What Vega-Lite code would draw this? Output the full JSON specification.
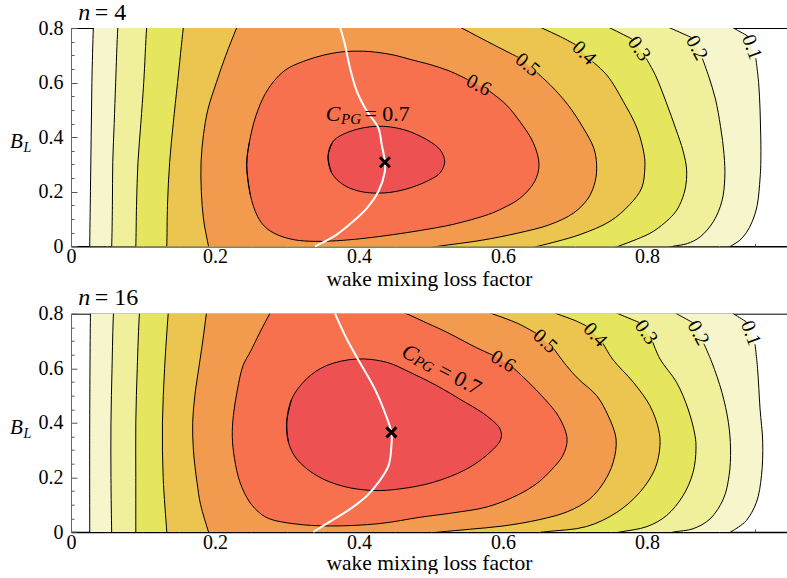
{
"$schema":"https://vega.github.io/schema/vega-lite/v6.json",
"background":"white",
"padding":{"left":10,"top":0,"right":0,"bottom":0},
"bounds":"flush",
"spacing":66.7,
"datasets":{
"ct":[
{"p":1,"lev":0.1,"i":-1,"x":0.026,"y":-0.05,"yl":-0.05},{"p":1,"lev":0.1,"i":0,"x":0.026,"y":0,"yl":0},{"p":1,"lev":0.1,"i":1,"x":0.027,"y":0.2,"yl":0.2},{"p":1,"lev":0.1,"i":2,"x":0.028,"y":0.4,"yl":0.4},{"p":1,"lev":0.1,"i":3,"x":0.029,"y":0.6,"yl":0.6},{"p":1,"lev":0.1,"i":4,"x":0.031,"y":0.8,"yl":0.8},{"p":1,"lev":0.1,"i":4.5,"x":0.032,"y":0.86,"yl":0.86},{"p":1,"lev":0.1,"i":4.7,"x":0.9,"y":0.83,"yl":0.83},{"p":1,"lev":0.1,"i":5,"x":0.92,"y":0.8,"yl":0.8},{"p":1,"lev":0.1,"i":6,"x":0.9397,"y":0.771,"yl":0.771},{"p":1,"lev":0.1,"i":7,"x":0.9454,"y":0.73,"yl":null},{"p":1,"lev":0.1,"i":8,"x":0.9511,"y":0.689,"yl":0.689},{"p":1,"lev":0.1,"i":9,"x":0.955,"y":0.6,"yl":0.6},{"p":1,"lev":0.1,"i":10,"x":0.957,"y":0.5,"yl":0.5},{"p":1,"lev":0.1,"i":11,"x":0.958,"y":0.4,"yl":0.4},{"p":1,"lev":0.1,"i":12,"x":0.958,"y":0.3,"yl":0.3},{"p":1,"lev":0.1,"i":13,"x":0.957,"y":0.25,"yl":0.25},{"p":1,"lev":0.1,"i":14,"x":0.953,"y":0.15,"yl":0.15},{"p":1,"lev":0.1,"i":15,"x":0.946,"y":0.09,"yl":0.09},{"p":1,"lev":0.1,"i":16,"x":0.938,"y":0.05,"yl":0.05},{"p":1,"lev":0.1,"i":17,"x":0.928,"y":0.02,"yl":0.02},{"p":1,"lev":0.1,"i":18,"x":0.916,"y":0,"yl":0},{"p":1,"lev":0.1,"i":19,"x":0.9,"y":-0.03,"yl":-0.03},
{"p":1,"lev":0.2,"i":-1,"x":0.0555,"y":-0.05,"yl":-0.05},{"p":1,"lev":0.2,"i":0,"x":0.0565,"y":0,"yl":0},{"p":1,"lev":0.2,"i":1,"x":0.0575,"y":0.15,"yl":0.15},{"p":1,"lev":0.2,"i":2,"x":0.058,"y":0.308,"yl":0.308},{"p":1,"lev":0.2,"i":3,"x":0.06,"y":0.45,"yl":0.45},{"p":1,"lev":0.2,"i":4,"x":0.062,"y":0.6,"yl":0.6},{"p":1,"lev":0.2,"i":5,"x":0.065,"y":0.8,"yl":0.8},{"p":1,"lev":0.2,"i":5.5,"x":0.067,"y":0.86,"yl":0.86},{"p":1,"lev":0.2,"i":5.7,"x":0.805,"y":0.83,"yl":0.83},{"p":1,"lev":0.2,"i":6,"x":0.832,"y":0.8,"yl":0.8},{"p":1,"lev":0.2,"i":7,"x":0.861,"y":0.766,"yl":0.766},{"p":1,"lev":0.2,"i":8,"x":0.869,"y":0.727,"yl":null},{"p":1,"lev":0.2,"i":9,"x":0.877,"y":0.688,"yl":0.688},{"p":1,"lev":0.2,"i":10,"x":0.886,"y":0.62,"yl":0.62},{"p":1,"lev":0.2,"i":11,"x":0.895,"y":0.54,"yl":0.54},{"p":1,"lev":0.2,"i":12,"x":0.902,"y":0.44,"yl":0.44},{"p":1,"lev":0.2,"i":13,"x":0.907,"y":0.336,"yl":0.336},{"p":1,"lev":0.2,"i":14,"x":0.908,"y":0.25,"yl":0.25},{"p":1,"lev":0.2,"i":15,"x":0.904,"y":0.165,"yl":0.165},{"p":1,"lev":0.2,"i":16,"x":0.892,"y":0.09,"yl":0.09},{"p":1,"lev":0.2,"i":17,"x":0.874,"y":0.035,"yl":0.035},{"p":1,"lev":0.2,"i":18,"x":0.856,"y":0.01,"yl":0.01},{"p":1,"lev":0.2,"i":19,"x":0.836,"y":0,"yl":0},{"p":1,"lev":0.2,"i":20,"x":0.8,"y":-0.02,"yl":-0.02},
{"p":1,"lev":0.3,"i":-1,"x":0.089,"y":-0.05,"yl":-0.05},{"p":1,"lev":0.3,"i":0,"x":0.09,"y":0,"yl":0},{"p":1,"lev":0.3,"i":1,"x":0.091,"y":0.15,"yl":0.15},{"p":1,"lev":0.3,"i":2,"x":0.093,"y":0.308,"yl":0.308},{"p":1,"lev":0.3,"i":3,"x":0.097,"y":0.45,"yl":0.45},{"p":1,"lev":0.3,"i":4,"x":0.101,"y":0.6,"yl":0.6},{"p":1,"lev":0.3,"i":5,"x":0.105,"y":0.8,"yl":0.8},{"p":1,"lev":0.3,"i":5.5,"x":0.107,"y":0.86,"yl":0.86},{"p":1,"lev":0.3,"i":5.7,"x":0.72,"y":0.835,"yl":0.835},{"p":1,"lev":0.3,"i":6,"x":0.7486,"y":0.8,"yl":0.8},{"p":1,"lev":0.3,"i":7,"x":0.779,"y":0.76,"yl":0.76},{"p":1,"lev":0.3,"i":8,"x":0.789,"y":0.724,"yl":null},{"p":1,"lev":0.3,"i":9,"x":0.799,"y":0.688,"yl":0.688},{"p":1,"lev":0.3,"i":10,"x":0.812,"y":0.625,"yl":0.625},{"p":1,"lev":0.3,"i":11,"x":0.827,"y":0.525,"yl":0.525},{"p":1,"lev":0.3,"i":12,"x":0.84,"y":0.43,"yl":0.43},{"p":1,"lev":0.3,"i":13,"x":0.85,"y":0.35,"yl":0.35},{"p":1,"lev":0.3,"i":14,"x":0.855,"y":0.28,"yl":0.28},{"p":1,"lev":0.3,"i":15,"x":0.853,"y":0.21,"yl":0.21},{"p":1,"lev":0.3,"i":16,"x":0.845,"y":0.15,"yl":0.15},{"p":1,"lev":0.3,"i":17,"x":0.8365,"y":0.116,"yl":0.116},{"p":1,"lev":0.3,"i":18,"x":0.809,"y":0.055,"yl":0.055},{"p":1,"lev":0.3,"i":19,"x":0.785,"y":0.025,"yl":0.025},{"p":1,"lev":0.3,"i":20,"x":0.76,"y":0,"yl":0},{"p":1,"lev":0.3,"i":21,"x":0.73,"y":-0.03,"yl":-0.03},
{"p":1,"lev":0.4,"i":-1,"x":0.132,"y":-0.05,"yl":-0.05},{"p":1,"lev":0.4,"i":0,"x":0.133,"y":0,"yl":0},{"p":1,"lev":0.4,"i":1,"x":0.134,"y":0.15,"yl":0.15},{"p":1,"lev":0.4,"i":2,"x":0.137,"y":0.308,"yl":0.308},{"p":1,"lev":0.4,"i":3,"x":0.142,"y":0.45,"yl":0.45},{"p":1,"lev":0.4,"i":4,"x":0.148,"y":0.6,"yl":0.6},{"p":1,"lev":0.4,"i":5,"x":0.156,"y":0.8,"yl":0.8},{"p":1,"lev":0.4,"i":5.5,"x":0.159,"y":0.86,"yl":0.86},{"p":1,"lev":0.4,"i":5.7,"x":0.63,"y":0.83,"yl":0.83},{"p":1,"lev":0.4,"i":6,"x":0.654,"y":0.8,"yl":0.8},{"p":1,"lev":0.4,"i":7,"x":0.68,"y":0.768,"yl":0.768},{"p":1,"lev":0.4,"i":8,"x":0.7007,"y":0.739,"yl":0.739},{"p":1,"lev":0.4,"i":9,"x":0.7125,"y":0.708,"yl":null},{"p":1,"lev":0.4,"i":10,"x":0.7243,"y":0.677,"yl":0.677},{"p":1,"lev":0.4,"i":11,"x":0.745,"y":0.625,"yl":0.625},{"p":1,"lev":0.4,"i":12,"x":0.767,"y":0.531,"yl":0.531},{"p":1,"lev":0.4,"i":13,"x":0.786,"y":0.4335,"yl":0.4335},{"p":1,"lev":0.4,"i":14,"x":0.796,"y":0.336,"yl":0.336},{"p":1,"lev":0.4,"i":15,"x":0.797,"y":0.287,"yl":0.287},{"p":1,"lev":0.4,"i":16,"x":0.7926,"y":0.2136,"yl":0.2136},{"p":1,"lev":0.4,"i":17,"x":0.776,"y":0.153,"yl":0.153},{"p":1,"lev":0.4,"i":18,"x":0.7486,"y":0.0916,"yl":0.0916},{"p":1,"lev":0.4,"i":19,"x":0.707,"y":0.043,"yl":0.043},{"p":1,"lev":0.4,"i":20,"x":0.675,"y":0.018,"yl":0.018},{"p":1,"lev":0.4,"i":21,"x":0.648,"y":0,"yl":0},{"p":1,"lev":0.4,"i":22,"x":0.61,"y":-0.025,"yl":-0.025},
{"p":1,"lev":0.5,"i":-1,"x":0.195,"y":-0.05,"yl":-0.05},{"p":1,"lev":0.5,"i":0,"x":0.191,"y":0,"yl":0},{"p":1,"lev":0.5,"i":1,"x":0.184,"y":0.1,"yl":0.1},{"p":1,"lev":0.5,"i":2,"x":0.181,"y":0.2,"yl":0.2},{"p":1,"lev":0.5,"i":3,"x":0.1806,"y":0.308,"yl":0.308},{"p":1,"lev":0.5,"i":4,"x":0.184,"y":0.409,"yl":0.409},{"p":1,"lev":0.5,"i":5,"x":0.19,"y":0.5,"yl":0.5},{"p":1,"lev":0.5,"i":6,"x":0.202,"y":0.601,"yl":0.601},{"p":1,"lev":0.5,"i":7,"x":0.215,"y":0.7,"yl":0.7},{"p":1,"lev":0.5,"i":8,"x":0.23,"y":0.8,"yl":0.8},{"p":1,"lev":0.5,"i":8.5,"x":0.24,"y":0.86,"yl":0.86},{"p":1,"lev":0.5,"i":8.7,"x":0.51,"y":0.845,"yl":0.845},{"p":1,"lev":0.5,"i":9,"x":0.5426,"y":0.8,"yl":0.8},{"p":1,"lev":0.5,"i":10,"x":0.5866,"y":0.739,"yl":0.739},{"p":1,"lev":0.5,"i":11,"x":0.621,"y":0.693,"yl":0.693},{"p":1,"lev":0.5,"i":12,"x":0.634,"y":0.665,"yl":null},{"p":1,"lev":0.5,"i":13,"x":0.647,"y":0.637,"yl":0.637},{"p":1,"lev":0.5,"i":14,"x":0.668,"y":0.585,"yl":0.585},{"p":1,"lev":0.5,"i":15,"x":0.69,"y":0.519,"yl":0.519},{"p":1,"lev":0.5,"i":16,"x":0.7115,"y":0.4335,"yl":0.4335},{"p":1,"lev":0.5,"i":17,"x":0.726,"y":0.36,"yl":0.36},{"p":1,"lev":0.5,"i":18,"x":0.73,"y":0.3,"yl":0.3},{"p":1,"lev":0.5,"i":19,"x":0.728,"y":0.238,"yl":0.238},{"p":1,"lev":0.5,"i":20,"x":0.7185,"y":0.177,"yl":0.177},{"p":1,"lev":0.5,"i":21,"x":0.698,"y":0.122,"yl":0.122},{"p":1,"lev":0.5,"i":22,"x":0.665,"y":0.0795,"yl":0.0795},{"p":1,"lev":0.5,"i":23,"x":0.62,"y":0.048,"yl":0.048},{"p":1,"lev":0.5,"i":24,"x":0.57,"y":0.022,"yl":0.022},{"p":1,"lev":0.5,"i":25,"x":0.51,"y":0,"yl":0},{"p":1,"lev":0.5,"i":26,"x":0.46,"y":-0.02,"yl":-0.02},
{"p":1,"lev":0.6,"i":-1,"x":0.249,"y":0.189,"yl":0.189},{"p":1,"lev":0.6,"i":0,"x":0.244,"y":0.3,"yl":0.3},{"p":1,"lev":0.6,"i":1,"x":0.248,"y":0.385,"yl":0.385},{"p":1,"lev":0.6,"i":2,"x":0.257,"y":0.48,"yl":0.48},{"p":1,"lev":0.6,"i":3,"x":0.27,"y":0.56,"yl":0.56},{"p":1,"lev":0.6,"i":4,"x":0.285,"y":0.615,"yl":0.615},{"p":1,"lev":0.6,"i":5,"x":0.3,"y":0.65,"yl":0.65},{"p":1,"lev":0.6,"i":6,"x":0.323,"y":0.678,"yl":0.678},{"p":1,"lev":0.6,"i":7,"x":0.35,"y":0.7,"yl":0.7},{"p":1,"lev":0.6,"i":8,"x":0.378,"y":0.713,"yl":0.713},{"p":1,"lev":0.6,"i":9,"x":0.405,"y":0.715,"yl":0.715},{"p":1,"lev":0.6,"i":10,"x":0.425,"y":0.711,"yl":0.711},{"p":1,"lev":0.6,"i":11,"x":0.45,"y":0.7,"yl":0.7},{"p":1,"lev":0.6,"i":12,"x":0.471,"y":0.685,"yl":0.685},{"p":1,"lev":0.6,"i":13,"x":0.5,"y":0.665,"yl":0.665},{"p":1,"lev":0.6,"i":14,"x":0.525,"y":0.643,"yl":0.643},{"p":1,"lev":0.6,"i":15,"x":0.551,"y":0.611,"yl":0.611},{"p":1,"lev":0.6,"i":16,"x":0.566,"y":0.59,"yl":null},{"p":1,"lev":0.6,"i":17,"x":0.581,"y":0.569,"yl":0.569},{"p":1,"lev":0.6,"i":18,"x":0.604,"y":0.52,"yl":0.52},{"p":1,"lev":0.6,"i":19,"x":0.624,"y":0.455,"yl":0.455},{"p":1,"lev":0.6,"i":20,"x":0.642,"y":0.38,"yl":0.38},{"p":1,"lev":0.6,"i":21,"x":0.65,"y":0.3,"yl":0.3},{"p":1,"lev":0.6,"i":22,"x":0.644,"y":0.238,"yl":0.238},{"p":1,"lev":0.6,"i":23,"x":0.624,"y":0.177,"yl":0.177},{"p":1,"lev":0.6,"i":24,"x":0.6,"y":0.14,"yl":0.14},{"p":1,"lev":0.6,"i":25,"x":0.58,"y":0.117,"yl":0.117},{"p":1,"lev":0.6,"i":26,"x":0.53,"y":0.08,"yl":0.08},{"p":1,"lev":0.6,"i":27,"x":0.485,"y":0.058,"yl":0.058},{"p":1,"lev":0.6,"i":28,"x":0.448,"y":0.043,"yl":0.043},{"p":1,"lev":0.6,"i":29,"x":0.41,"y":0.03,"yl":0.03},{"p":1,"lev":0.6,"i":30,"x":0.378,"y":0.022,"yl":0.022},{"p":1,"lev":0.6,"i":31,"x":0.34,"y":0.018,"yl":0.018},{"p":1,"lev":0.6,"i":32,"x":0.31,"y":0.024,"yl":0.024},{"p":1,"lev":0.6,"i":33,"x":0.286,"y":0.043,"yl":0.043},{"p":1,"lev":0.6,"i":34,"x":0.27,"y":0.07,"yl":0.07},{"p":1,"lev":0.6,"i":35,"x":0.259,"y":0.11,"yl":0.11},{"p":1,"lev":0.6,"i":36,"x":0.249,"y":0.189,"yl":0.189},{"p":1,"lev":0.6,"i":37,"x":0.244,"y":0.3,"yl":0.3},{"p":1,"lev":0.6,"i":38,"x":0.248,"y":0.385,"yl":0.385},
{"p":1,"lev":0.7,"i":-1,"x":0.362,"y":0.269,"yl":0.269},{"p":1,"lev":0.7,"i":0,"x":0.357,"y":0.33,"yl":0.33},{"p":1,"lev":0.7,"i":1,"x":0.364,"y":0.385,"yl":0.385},{"p":1,"lev":0.7,"i":2,"x":0.3875,"y":0.421,"yl":0.421},{"p":1,"lev":0.7,"i":3,"x":0.425,"y":0.44,"yl":0.44},{"p":1,"lev":0.7,"i":4,"x":0.4615,"y":0.428,"yl":0.428},{"p":1,"lev":0.7,"i":5,"x":0.494,"y":0.391,"yl":0.391},{"p":1,"lev":0.7,"i":6,"x":0.5125,"y":0.354,"yl":0.354},{"p":1,"lev":0.7,"i":7,"x":0.519,"y":0.311,"yl":0.311},{"p":1,"lev":0.7,"i":8,"x":0.5125,"y":0.269,"yl":0.269},{"p":1,"lev":0.7,"i":9,"x":0.489,"y":0.232,"yl":0.232},{"p":1,"lev":0.7,"i":10,"x":0.457,"y":0.204,"yl":0.204},{"p":1,"lev":0.7,"i":11,"x":0.429,"y":0.195,"yl":0.195},{"p":1,"lev":0.7,"i":12,"x":0.401,"y":0.2015,"yl":0.2015},{"p":1,"lev":0.7,"i":13,"x":0.378,"y":0.226,"yl":0.226},{"p":1,"lev":0.7,"i":14,"x":0.362,"y":0.269,"yl":0.269},{"p":1,"lev":0.7,"i":15,"x":0.357,"y":0.33,"yl":0.33},{"p":1,"lev":0.7,"i":16,"x":0.364,"y":0.385,"yl":0.385},
{"p":2,"lev":0.1,"i":-1,"x":0.026,"y":-0.05,"yl":-0.05},{"p":2,"lev":0.1,"i":0,"x":0.026,"y":0,"yl":0},{"p":2,"lev":0.1,"i":1,"x":0.026,"y":0.4,"yl":0.4},{"p":2,"lev":0.1,"i":2,"x":0.027,"y":0.8,"yl":0.8},{"p":2,"lev":0.1,"i":2.5,"x":0.0275,"y":0.86,"yl":0.86},{"p":2,"lev":0.1,"i":2.7,"x":0.902,"y":0.83,"yl":0.83},{"p":2,"lev":0.1,"i":3,"x":0.92,"y":0.8,"yl":0.8},{"p":2,"lev":0.1,"i":4,"x":0.938,"y":0.77,"yl":0.77},{"p":2,"lev":0.1,"i":5,"x":0.944,"y":0.729,"yl":null},{"p":2,"lev":0.1,"i":6,"x":0.95,"y":0.688,"yl":0.688},{"p":2,"lev":0.1,"i":7,"x":0.9535,"y":0.6,"yl":0.6},{"p":2,"lev":0.1,"i":8,"x":0.957,"y":0.4507,"yl":0.4507},{"p":2,"lev":0.1,"i":9,"x":0.9607,"y":0.329,"yl":0.329},{"p":2,"lev":0.1,"i":10,"x":0.959,"y":0.207,"yl":0.207},{"p":2,"lev":0.1,"i":11,"x":0.952,"y":0.109,"yl":0.109},{"p":2,"lev":0.1,"i":12,"x":0.938,"y":0.042,"yl":0.042},{"p":2,"lev":0.1,"i":13,"x":0.927,"y":0.018,"yl":0.018},{"p":2,"lev":0.1,"i":14,"x":0.916,"y":0,"yl":0},{"p":2,"lev":0.1,"i":15,"x":0.903,"y":-0.02,"yl":-0.02},
{"p":2,"lev":0.2,"i":-1,"x":0.057,"y":-0.05,"yl":-0.05},{"p":2,"lev":0.2,"i":0,"x":0.0565,"y":0,"yl":0},{"p":2,"lev":0.2,"i":1,"x":0.0555,"y":0.2,"yl":0.2},{"p":2,"lev":0.2,"i":2,"x":0.0555,"y":0.4,"yl":0.4},{"p":2,"lev":0.2,"i":3,"x":0.057,"y":0.6,"yl":0.6},{"p":2,"lev":0.2,"i":4,"x":0.059,"y":0.8,"yl":0.8},{"p":2,"lev":0.2,"i":4.5,"x":0.061,"y":0.86,"yl":0.86},{"p":2,"lev":0.2,"i":4.7,"x":0.82,"y":0.83,"yl":0.83},{"p":2,"lev":0.2,"i":5,"x":0.841,"y":0.8,"yl":0.8},{"p":2,"lev":0.2,"i":6,"x":0.863,"y":0.768,"yl":0.768},{"p":2,"lev":0.2,"i":7,"x":0.871,"y":0.729,"yl":null},{"p":2,"lev":0.2,"i":8,"x":0.879,"y":0.69,"yl":0.69},{"p":2,"lev":0.2,"i":9,"x":0.89,"y":0.622,"yl":0.622},{"p":2,"lev":0.2,"i":10,"x":0.904,"y":0.512,"yl":0.512},{"p":2,"lev":0.2,"i":11,"x":0.913,"y":0.402,"yl":0.402},{"p":2,"lev":0.2,"i":12,"x":0.916,"y":0.304,"yl":0.304},{"p":2,"lev":0.2,"i":13,"x":0.914,"y":0.207,"yl":0.207},{"p":2,"lev":0.2,"i":14,"x":0.906,"y":0.121,"yl":0.121},{"p":2,"lev":0.2,"i":15,"x":0.8875,"y":0.048,"yl":0.048},{"p":2,"lev":0.2,"i":16,"x":0.864,"y":0.012,"yl":0.012},{"p":2,"lev":0.2,"i":17,"x":0.837,"y":0,"yl":0},{"p":2,"lev":0.2,"i":18,"x":0.8,"y":-0.02,"yl":-0.02},
{"p":2,"lev":0.3,"i":-1,"x":0.09,"y":-0.05,"yl":-0.05},{"p":2,"lev":0.3,"i":0,"x":0.09,"y":0,"yl":0},{"p":2,"lev":0.3,"i":1,"x":0.09,"y":0.2,"yl":0.2},{"p":2,"lev":0.3,"i":2,"x":0.09,"y":0.4,"yl":0.4},{"p":2,"lev":0.3,"i":3,"x":0.092,"y":0.6,"yl":0.6},{"p":2,"lev":0.3,"i":4,"x":0.095,"y":0.8,"yl":0.8},{"p":2,"lev":0.3,"i":4.5,"x":0.097,"y":0.86,"yl":0.86},{"p":2,"lev":0.3,"i":4.7,"x":0.735,"y":0.83,"yl":0.83},{"p":2,"lev":0.3,"i":5,"x":0.76,"y":0.8,"yl":0.8},{"p":2,"lev":0.3,"i":6,"x":0.789,"y":0.768,"yl":0.768},{"p":2,"lev":0.3,"i":7,"x":0.7986,"y":0.732,"yl":null},{"p":2,"lev":0.3,"i":8,"x":0.808,"y":0.696,"yl":0.696},{"p":2,"lev":0.3,"i":9,"x":0.818,"y":0.634,"yl":0.634},{"p":2,"lev":0.3,"i":10,"x":0.841,"y":0.5486,"yl":0.5486},{"p":2,"lev":0.3,"i":11,"x":0.857,"y":0.4507,"yl":0.4507},{"p":2,"lev":0.3,"i":12,"x":0.8667,"y":0.353,"yl":0.353},{"p":2,"lev":0.3,"i":13,"x":0.868,"y":0.304,"yl":0.304},{"p":2,"lev":0.3,"i":14,"x":0.864,"y":0.219,"yl":0.219},{"p":2,"lev":0.3,"i":15,"x":0.85,"y":0.133,"yl":0.133},{"p":2,"lev":0.3,"i":16,"x":0.827,"y":0.06,"yl":0.06},{"p":2,"lev":0.3,"i":17,"x":0.8,"y":0.02,"yl":0.02},{"p":2,"lev":0.3,"i":18,"x":0.7625,"y":0,"yl":0},{"p":2,"lev":0.3,"i":19,"x":0.72,"y":-0.02,"yl":-0.02},
{"p":2,"lev":0.4,"i":-1,"x":0.134,"y":-0.05,"yl":-0.05},{"p":2,"lev":0.4,"i":0,"x":0.133,"y":0,"yl":0},{"p":2,"lev":0.4,"i":1,"x":0.128,"y":0.2,"yl":0.2},{"p":2,"lev":0.4,"i":2,"x":0.127,"y":0.4,"yl":0.4},{"p":2,"lev":0.4,"i":3,"x":0.13,"y":0.6,"yl":0.6},{"p":2,"lev":0.4,"i":4,"x":0.135,"y":0.8,"yl":0.8},{"p":2,"lev":0.4,"i":4.5,"x":0.137,"y":0.86,"yl":0.86},{"p":2,"lev":0.4,"i":4.7,"x":0.65,"y":0.825,"yl":0.825},{"p":2,"lev":0.4,"i":5,"x":0.6745,"y":0.8,"yl":0.8},{"p":2,"lev":0.4,"i":6,"x":0.7,"y":0.775,"yl":0.775},{"p":2,"lev":0.4,"i":7,"x":0.716,"y":0.755,"yl":0.755},{"p":2,"lev":0.4,"i":8,"x":0.7278,"y":0.723,"yl":null},{"p":2,"lev":0.4,"i":9,"x":0.739,"y":0.691,"yl":0.691},{"p":2,"lev":0.4,"i":10,"x":0.752,"y":0.634,"yl":0.634},{"p":2,"lev":0.4,"i":11,"x":0.781,"y":0.5486,"yl":0.5486},{"p":2,"lev":0.4,"i":12,"x":0.804,"y":0.463,"yl":0.463},{"p":2,"lev":0.4,"i":13,"x":0.816,"y":0.377,"yl":0.377},{"p":2,"lev":0.4,"i":14,"x":0.818,"y":0.3166,"yl":0.3166},{"p":2,"lev":0.4,"i":15,"x":0.811,"y":0.231,"yl":0.231},{"p":2,"lev":0.4,"i":16,"x":0.79,"y":0.1455,"yl":0.1455},{"p":2,"lev":0.4,"i":17,"x":0.758,"y":0.072,"yl":0.072},{"p":2,"lev":0.4,"i":18,"x":0.716,"y":0.02,"yl":0.02},{"p":2,"lev":0.4,"i":19,"x":0.656,"y":0,"yl":0},{"p":2,"lev":0.4,"i":20,"x":0.6,"y":-0.02,"yl":-0.02},
{"p":2,"lev":0.5,"i":-1,"x":0.197,"y":-0.05,"yl":-0.05},{"p":2,"lev":0.5,"i":0,"x":0.191,"y":0,"yl":0},{"p":2,"lev":0.5,"i":1,"x":0.18,"y":0.1,"yl":0.1},{"p":2,"lev":0.5,"i":2,"x":0.175,"y":0.182,"yl":0.182},{"p":2,"lev":0.5,"i":3,"x":0.17,"y":0.3,"yl":0.3},{"p":2,"lev":0.5,"i":4,"x":0.169,"y":0.402,"yl":0.402},{"p":2,"lev":0.5,"i":5,"x":0.172,"y":0.5,"yl":0.5},{"p":2,"lev":0.5,"i":6,"x":0.178,"y":0.61,"yl":0.61},{"p":2,"lev":0.5,"i":7,"x":0.183,"y":0.7,"yl":0.7},{"p":2,"lev":0.5,"i":8,"x":0.188,"y":0.8,"yl":0.8},{"p":2,"lev":0.5,"i":8.5,"x":0.191,"y":0.86,"yl":0.86},{"p":2,"lev":0.5,"i":8.7,"x":0.555,"y":0.83,"yl":0.83},{"p":2,"lev":0.5,"i":9,"x":0.585,"y":0.8,"yl":0.8},{"p":2,"lev":0.5,"i":10,"x":0.62,"y":0.765,"yl":0.765},{"p":2,"lev":0.5,"i":11,"x":0.646,"y":0.728,"yl":0.728},{"p":2,"lev":0.5,"i":12,"x":0.6583,"y":0.699,"yl":null},{"p":2,"lev":0.5,"i":13,"x":0.671,"y":0.67,"yl":0.67},{"p":2,"lev":0.5,"i":14,"x":0.688,"y":0.61,"yl":0.61},{"p":2,"lev":0.5,"i":15,"x":0.705,"y":0.56,"yl":0.56},{"p":2,"lev":0.5,"i":16,"x":0.73,"y":0.4998,"yl":0.4998},{"p":2,"lev":0.5,"i":17,"x":0.746,"y":0.4265,"yl":0.4265},{"p":2,"lev":0.5,"i":18,"x":0.757,"y":0.341,"yl":0.341},{"p":2,"lev":0.5,"i":19,"x":0.753,"y":0.2554,"yl":0.2554},{"p":2,"lev":0.5,"i":20,"x":0.74,"y":0.182,"yl":0.182},{"p":2,"lev":0.5,"i":21,"x":0.72,"y":0.12,"yl":0.12},{"p":2,"lev":0.5,"i":22,"x":0.69,"y":0.075,"yl":0.075},{"p":2,"lev":0.5,"i":23,"x":0.65,"y":0.045,"yl":0.045},{"p":2,"lev":0.5,"i":24,"x":0.6,"y":0.022,"yl":0.022},{"p":2,"lev":0.5,"i":25,"x":0.5535,"y":0.01,"yl":0.01},{"p":2,"lev":0.5,"i":26,"x":0.5125,"y":0,"yl":0},{"p":2,"lev":0.5,"i":27,"x":0.46,"y":-0.015,"yl":-0.015},
{"p":2,"lev":0.6,"i":-1,"x":0.286,"y":0.85,"yl":0.85},{"p":2,"lev":0.6,"i":0,"x":0.276,"y":0.8,"yl":0.8},{"p":2,"lev":0.6,"i":1,"x":0.262,"y":0.73,"yl":0.73},{"p":2,"lev":0.6,"i":2,"x":0.25,"y":0.665,"yl":0.665},{"p":2,"lev":0.6,"i":3,"x":0.239,"y":0.61,"yl":0.61},{"p":2,"lev":0.6,"i":4,"x":0.231,"y":0.52,"yl":0.52},{"p":2,"lev":0.6,"i":5,"x":0.2255,"y":0.4265,"yl":0.4265},{"p":2,"lev":0.6,"i":6,"x":0.224,"y":0.35,"yl":0.35},{"p":2,"lev":0.6,"i":7,"x":0.227,"y":0.27,"yl":0.27},{"p":2,"lev":0.6,"i":8,"x":0.2347,"y":0.182,"yl":0.182},{"p":2,"lev":0.6,"i":9,"x":0.248,"y":0.11,"yl":0.11},{"p":2,"lev":0.6,"i":10,"x":0.262,"y":0.07,"yl":0.07},{"p":2,"lev":0.6,"i":11,"x":0.276,"y":0.048,"yl":0.048},{"p":2,"lev":0.6,"i":12,"x":0.31,"y":0.03,"yl":0.03},{"p":2,"lev":0.6,"i":13,"x":0.36,"y":0.022,"yl":0.022},{"p":2,"lev":0.6,"i":14,"x":0.429,"y":0.031,"yl":0.031},{"p":2,"lev":0.6,"i":15,"x":0.4847,"y":0.054,"yl":0.054},{"p":2,"lev":0.6,"i":16,"x":0.53,"y":0.07,"yl":0.07},{"p":2,"lev":0.6,"i":17,"x":0.578,"y":0.092,"yl":0.092},{"p":2,"lev":0.6,"i":18,"x":0.62,"y":0.135,"yl":0.135},{"p":2,"lev":0.6,"i":19,"x":0.648,"y":0.18,"yl":0.18},{"p":2,"lev":0.6,"i":20,"x":0.668,"y":0.23,"yl":0.23},{"p":2,"lev":0.6,"i":21,"x":0.683,"y":0.28,"yl":0.28},{"p":2,"lev":0.6,"i":22,"x":0.689,"y":0.34,"yl":0.34},{"p":2,"lev":0.6,"i":23,"x":0.678,"y":0.42,"yl":0.42},{"p":2,"lev":0.6,"i":24,"x":0.657,"y":0.49,"yl":0.49},{"p":2,"lev":0.6,"i":25,"x":0.635,"y":0.55,"yl":0.55},{"p":2,"lev":0.6,"i":26,"x":0.614,"y":0.602,"yl":0.602},{"p":2,"lev":0.6,"i":27,"x":0.6,"y":0.625,"yl":null},{"p":2,"lev":0.6,"i":28,"x":0.586,"y":0.648,"yl":0.648},{"p":2,"lev":0.6,"i":29,"x":0.5635,"y":0.675,"yl":0.675},{"p":2,"lev":0.6,"i":30,"x":0.522,"y":0.732,"yl":0.732},{"p":2,"lev":0.6,"i":31,"x":0.495,"y":0.765,"yl":0.765},{"p":2,"lev":0.6,"i":32,"x":0.466,"y":0.8,"yl":0.8},{"p":2,"lev":0.6,"i":33,"x":0.44,"y":0.83,"yl":0.83},
{"p":2,"lev":0.7,"i":-1,"x":0.302,"y":0.329,"yl":0.329},{"p":2,"lev":0.7,"i":0,"x":0.2996,"y":0.402,"yl":0.402},{"p":2,"lev":0.7,"i":1,"x":0.3065,"y":0.487,"yl":0.487},{"p":2,"lev":0.7,"i":2,"x":0.327,"y":0.561,"yl":0.561},{"p":2,"lev":0.7,"i":3,"x":0.355,"y":0.61,"yl":0.61},{"p":2,"lev":0.7,"i":4,"x":0.397,"y":0.634,"yl":0.634},{"p":2,"lev":0.7,"i":5,"x":0.4385,"y":0.622,"yl":0.622},{"p":2,"lev":0.7,"i":6,"x":0.471,"y":0.585,"yl":0.585},{"p":2,"lev":0.7,"i":7,"x":0.508,"y":0.5365,"yl":0.5365},{"p":2,"lev":0.7,"i":8,"x":0.54,"y":0.487,"yl":0.487},{"p":2,"lev":0.7,"i":9,"x":0.577,"y":0.4265,"yl":0.4265},{"p":2,"lev":0.7,"i":10,"x":0.596,"y":0.377,"yl":0.377},{"p":2,"lev":0.7,"i":11,"x":0.597,"y":0.341,"yl":0.341},{"p":2,"lev":0.7,"i":12,"x":0.582,"y":0.292,"yl":0.292},{"p":2,"lev":0.7,"i":13,"x":0.5496,"y":0.231,"yl":0.231},{"p":2,"lev":0.7,"i":14,"x":0.503,"y":0.182,"yl":0.182},{"p":2,"lev":0.7,"i":15,"x":0.457,"y":0.158,"yl":0.158},{"p":2,"lev":0.7,"i":16,"x":0.42,"y":0.152,"yl":0.152},{"p":2,"lev":0.7,"i":17,"x":0.378,"y":0.1675,"yl":0.1675},{"p":2,"lev":0.7,"i":18,"x":0.341,"y":0.207,"yl":0.207},{"p":2,"lev":0.7,"i":19,"x":0.3135,"y":0.2675,"yl":0.2675},{"p":2,"lev":0.7,"i":20,"x":0.302,"y":0.329,"yl":0.329},{"p":2,"lev":0.7,"i":21,"x":0.2996,"y":0.402,"yl":0.402},{"p":2,"lev":0.7,"i":22,"x":0.3065,"y":0.487,"yl":0.487}
],
"rg":[
{"p":1,"i":0,"x":0.339,"y":0},{"p":1,"i":1,"x":0.369,"y":0.043},{"p":1,"i":2,"x":0.392,"y":0.0916},{"p":1,"i":3,"x":0.411,"y":0.14},{"p":1,"i":4,"x":0.427,"y":0.2015},{"p":1,"i":5,"x":0.436,"y":0.275},{"p":1,"i":6,"x":0.436,"y":0.308},{"p":1,"i":7,"x":0.4315,"y":0.373},{"p":1,"i":8,"x":0.427,"y":0.433},{"p":1,"i":9,"x":0.411,"y":0.495},{"p":1,"i":10,"x":0.397,"y":0.568},{"p":1,"i":11,"x":0.3875,"y":0.653},{"p":1,"i":12,"x":0.3805,"y":0.739},{"p":1,"i":13,"x":0.374,"y":0.8},
{"p":2,"i":0,"x":0.3365,"y":0},{"p":2,"i":1,"x":0.362,"y":0.042},{"p":2,"i":2,"x":0.3875,"y":0.084},{"p":2,"i":3,"x":0.411,"y":0.133},{"p":2,"i":4,"x":0.427,"y":0.182},{"p":2,"i":5,"x":0.441,"y":0.243},{"p":2,"i":6,"x":0.445,"y":0.3166},{"p":2,"i":7,"x":0.445,"y":0.365},{"p":2,"i":8,"x":0.434,"y":0.451},{"p":2,"i":9,"x":0.422,"y":0.524},{"p":2,"i":10,"x":0.401,"y":0.622},{"p":2,"i":11,"x":0.383,"y":0.707},{"p":2,"i":12,"x":0.3667,"y":0.8}
],
"mk":[{"p":1,"x":0.436,"y":0.308},{"p":2,"x":0.445,"y":0.365}],
"lb":[
{"p":1,"k":"c6","t":"0.6","x":0.566,"y":0.59},{"p":1,"k":"c5","t":"0.5","x":0.634,"y":0.665},{"p":1,"k":"c4","t":"0.4","x":0.7125,"y":0.708},{"p":1,"k":"c3","t":"0.3","x":0.789,"y":0.724},{"p":1,"k":"c2","t":"0.2","x":0.869,"y":0.727},{"p":1,"k":"c1","t":"0.1","x":0.9454,"y":0.73},
{"p":1,"k":"C","t":"C","x":0.364,"y":0.4855},{"p":1,"k":"PG","t":"PG","x":0.389,"y":0.467},{"p":1,"k":"eq","t":"= 0.7","x":0.439,"y":0.4855},
{"p":1,"k":"n","t":"n","x":0.01,"y":0.8},{"p":1,"k":"nv","t":"= 4","x":0.033,"y":0.8},
{"p":1,"k":"B","t":"B","x":-0.0847,"y":0.36},{"p":1,"k":"L","t":"L","x":-0.066,"y":0.3455},
{"p":2,"k":"c6","t":"0.6","x":0.6,"y":0.625},{"p":2,"k":"c5","t":"0.5","x":0.6583,"y":0.699},{"p":2,"k":"c4","t":"0.4","x":0.7278,"y":0.723},{"p":2,"k":"c3","t":"0.3","x":0.7986,"y":0.732},{"p":2,"k":"c2","t":"0.2","x":0.871,"y":0.729},{"p":2,"k":"c1","t":"0.1","x":0.944,"y":0.729},
{"p":2,"k":"C","t":"C","x":0.471,"y":0.656},{"p":2,"k":"PG","t":"PG","x":0.49,"y":0.616},{"p":2,"k":"eq","t":"= 0.7","x":0.54,"y":0.561},
{"p":2,"k":"n","t":"n","x":0.01,"y":0.8},{"p":2,"k":"nv","t":"= 16","x":0.033,"y":0.8},
{"p":2,"k":"B","t":"B","x":-0.0847,"y":0.359},{"p":2,"k":"L","t":"L","x":-0.066,"y":0.3445}
]
},
"vconcat":[
{
"width":716,"height":218.3,
"encoding":{
"x":{"field":"x","type":"quantitative","scale":{"domain":[0,0.9944],"nice":false,"zero":false},"axis":null},
"y":{"field":"y","type":"quantitative","scale":{"domain":[0,0.8],"nice":false,"zero":false},"axis":null}
},
"resolve":{"axis":{"x":"independent","y":"independent"}},
"layer":[
{"data":{"name":"ct"},"transform":[{"filter":"datum.p==1 && datum.lev==0.1"}],"mark":{"type":"line","filled":true,"color":"#f7f5cc","interpolate":"catmull-rom","clip":true},
"encoding":{"order":{"field":"i","type":"quantitative"},
"x":{"field":"x","type":"quantitative","scale":{"domain":[0,0.9944],"nice":false,"zero":false},"axis":{"orient":"bottom","values":[0,0.2,0.4,0.6,0.8],"format":"~g","tickSize":-6,"labelPadding":6,"domainColor":"black","domainWidth":1.5,"title":"wake mixing loss factor","titlePadding":2}},
"y":{"field":"y","type":"quantitative","scale":{"domain":[0,0.8],"nice":false,"zero":false},"axis":{"orient":"left","values":[0,0.2,0.4,0.6,0.8],"format":"~g","tickSize":-6,"labelPadding":14,"domainColor":"#666","title":null}}}},
{"data":{"name":"ct"},"transform":[{"filter":"datum.p==1 && datum.lev==0.2"}],"mark":{"type":"line","filled":true,"color":"#f0ef9c","interpolate":"catmull-rom","clip":true},
"encoding":{"order":{"field":"i","type":"quantitative"},
"x":{"field":"x","type":"quantitative","scale":{"domain":[0,0.9944],"nice":false,"zero":false},"axis":{"orient":"bottom","values":[0.05,0.1,0.15,0.25,0.3,0.35,0.45,0.5,0.55,0.65,0.7,0.75,0.85,0.9,0.95],"tickSize":-3,"labels":false,"domain":false,"title":null}},
"y":{"field":"y","type":"quantitative","scale":{"domain":[0,0.8],"nice":false,"zero":false},"axis":{"orient":"left","values":[0.05,0.1,0.15,0.25,0.3,0.35,0.45,0.5,0.55,0.65,0.7,0.75],"tickSize":-3,"labels":false,"domain":false,"title":null}}}},
{"data":{"name":"ct"},"transform":[{"filter":"datum.p==1 && datum.lev==0.3"}],"mark":{"type":"line","filled":true,"color":"#e6e65e","interpolate":"catmull-rom","clip":true},
"encoding":{"order":{"field":"i","type":"quantitative"},
"x":{"field":"x","type":"quantitative","scale":{"domain":[0,0.9944],"nice":false,"zero":false},"axis":{"orient":"top","ticks":false,"labels":false,"domainColor":"black","title":null}}}},
{"data":{"name":"ct"},"transform":[{"filter":"datum.p==1 && datum.lev==0.4"}],"mark":{"type":"line","filled":true,"color":"#ebc550","interpolate":"catmull-rom","clip":true},"encoding":{"order":{"field":"i","type":"quantitative"}}},
{"data":{"name":"ct"},"transform":[{"filter":"datum.p==1 && datum.lev==0.5"}],"mark":{"type":"line","filled":true,"color":"#f29b4f","interpolate":"catmull-rom","clip":true},"encoding":{"order":{"field":"i","type":"quantitative"}}},
{"data":{"name":"ct"},"transform":[{"filter":"datum.p==1 && datum.lev==0.6"}],"mark":{"type":"line","filled":true,"color":"#f8714f","interpolate":"catmull-rom","clip":true},"encoding":{"order":{"field":"i","type":"quantitative"}}},
{"data":{"name":"ct"},"transform":[{"filter":"datum.p==1 && datum.lev==0.7"}],"mark":{"type":"line","filled":true,"color":"#ee5151","interpolate":"catmull-rom","clip":true},"encoding":{"order":{"field":"i","type":"quantitative"}}},
{"data":{"name":"ct"},"transform":[{"filter":"datum.p==1"}],"mark":{"type":"line","color":"black","strokeWidth":1,"interpolate":"catmull-rom","clip":true,"invalid":"break-paths-filter-domains"},
"encoding":{"y":{"field":"yl","type":"quantitative","scale":{"domain":[0,0.8],"nice":false,"zero":false},"axis":null},"detail":{"field":"lev","type":"nominal"},"order":{"field":"i","type":"quantitative"}}},
{"data":{"name":"rg"},"transform":[{"filter":"datum.p==1"}],"mark":{"type":"line","color":"white","strokeWidth":2,"interpolate":"catmull-rom"},"encoding":{"order":{"field":"i","type":"quantitative"}}},
{"data":{"name":"mk"},"transform":[{"filter":"datum.p==1"}],"mark":{"type":"point","shape":"M-1,-1L1,1M1,-1L-1,1","size":100,"filled":false,"color":"black","strokeWidth":3,"opacity":1}},
{"data":{"name":"lb"},"transform":[{"filter":"datum.p==1 && datum.k=='c6'"}],"mark":{"type":"text","angle":28},"encoding":{"text":{"field":"t"}}},
{"data":{"name":"lb"},"transform":[{"filter":"datum.p==1 && datum.k=='c5'"}],"mark":{"type":"text","angle":40},"encoding":{"text":{"field":"t"}}},
{"data":{"name":"lb"},"transform":[{"filter":"datum.p==1 && datum.k=='c4'"}],"mark":{"type":"text","angle":45},"encoding":{"text":{"field":"t"}}},
{"data":{"name":"lb"},"transform":[{"filter":"datum.p==1 && datum.k=='c3'"}],"mark":{"type":"text","angle":55},"encoding":{"text":{"field":"t"}}},
{"data":{"name":"lb"},"transform":[{"filter":"datum.p==1 && datum.k=='c2'"}],"mark":{"type":"text","angle":62},"encoding":{"text":{"field":"t"}}},
{"data":{"name":"lb"},"transform":[{"filter":"datum.p==1 && datum.k=='c1'"}],"mark":{"type":"text","angle":70},"encoding":{"text":{"field":"t"}}},
{"data":{"name":"lb"},"transform":[{"filter":"datum.p==1 && datum.k=='C'"}],"mark":{"type":"text","fontStyle":"italic","fontSize":22},"encoding":{"text":{"field":"t"}}},
{"data":{"name":"lb"},"transform":[{"filter":"datum.p==1 && datum.k=='PG'"}],"mark":{"type":"text","fontStyle":"italic","fontSize":15},"encoding":{"text":{"field":"t"}}},
{"data":{"name":"lb"},"transform":[{"filter":"datum.p==1 && datum.k=='eq'"}],"mark":{"type":"text","fontSize":22},"encoding":{"text":{"field":"t"}}},
{"data":{"name":"lb"},"transform":[{"filter":"datum.p==1 && datum.k=='n'"}],"mark":{"type":"text","fontStyle":"italic","fontSize":24,"align":"left","baseline":"alphabetic","dy":-8.4},"encoding":{"text":{"field":"t"}}},
{"data":{"name":"lb"},"transform":[{"filter":"datum.p==1 && datum.k=='nv'"}],"mark":{"type":"text","fontSize":24,"align":"left","baseline":"alphabetic","dy":-8.4},"encoding":{"text":{"field":"t"}}},
{"data":{"name":"lb"},"transform":[{"filter":"datum.p==1 && datum.k=='B'"}],"mark":{"type":"text","fontStyle":"italic","fontSize":21,"align":"left","baseline":"alphabetic"},"encoding":{"text":{"field":"t"}}},
{"data":{"name":"lb"},"transform":[{"filter":"datum.p==1 && datum.k=='L'"}],"mark":{"type":"text","fontStyle":"italic","fontSize":14,"align":"left","baseline":"alphabetic"},"encoding":{"text":{"field":"t"}}}
]
},
{
"width":716,"height":218.3,
"encoding":{
"x":{"field":"x","type":"quantitative","scale":{"domain":[0,0.9944],"nice":false,"zero":false},"axis":null},
"y":{"field":"y","type":"quantitative","scale":{"domain":[0,0.8],"nice":false,"zero":false},"axis":null}
},
"resolve":{"axis":{"x":"independent","y":"independent"}},
"layer":[
{"data":{"name":"ct"},"transform":[{"filter":"datum.p==2 && datum.lev==0.1"}],"mark":{"type":"line","filled":true,"color":"#f7f5cc","interpolate":"catmull-rom","clip":true},
"encoding":{"order":{"field":"i","type":"quantitative"},
"x":{"field":"x","type":"quantitative","scale":{"domain":[0,0.9944],"nice":false,"zero":false},"axis":{"orient":"bottom","values":[0,0.2,0.4,0.6,0.8],"format":"~g","tickSize":-6,"labelPadding":6,"domainColor":"black","domainWidth":1.5,"title":"wake mixing loss factor","titlePadding":0}},
"y":{"field":"y","type":"quantitative","scale":{"domain":[0,0.8],"nice":false,"zero":false},"axis":{"orient":"left","values":[0,0.2,0.4,0.6,0.8],"format":"~g","tickSize":-6,"labelPadding":14,"domainColor":"#666","title":null}}}},
{"data":{"name":"ct"},"transform":[{"filter":"datum.p==2 && datum.lev==0.2"}],"mark":{"type":"line","filled":true,"color":"#f0ef9c","interpolate":"catmull-rom","clip":true},
"encoding":{"order":{"field":"i","type":"quantitative"},
"x":{"field":"x","type":"quantitative","scale":{"domain":[0,0.9944],"nice":false,"zero":false},"axis":{"orient":"bottom","values":[0.05,0.1,0.15,0.25,0.3,0.35,0.45,0.5,0.55,0.65,0.7,0.75,0.85,0.9,0.95],"tickSize":-3,"labels":false,"domain":false,"title":null}},
"y":{"field":"y","type":"quantitative","scale":{"domain":[0,0.8],"nice":false,"zero":false},"axis":{"orient":"left","values":[0.05,0.1,0.15,0.25,0.3,0.35,0.45,0.5,0.55,0.65,0.7,0.75],"tickSize":-3,"labels":false,"domain":false,"title":null}}}},
{"data":{"name":"ct"},"transform":[{"filter":"datum.p==2 && datum.lev==0.3"}],"mark":{"type":"line","filled":true,"color":"#e6e65e","interpolate":"catmull-rom","clip":true},
"encoding":{"order":{"field":"i","type":"quantitative"},
"x":{"field":"x","type":"quantitative","scale":{"domain":[0,0.9944],"nice":false,"zero":false},"axis":{"orient":"top","ticks":false,"labels":false,"domainColor":"black","title":null}}}},
{"data":{"name":"ct"},"transform":[{"filter":"datum.p==2 && datum.lev==0.4"}],"mark":{"type":"line","filled":true,"color":"#ebc550","interpolate":"catmull-rom","clip":true},"encoding":{"order":{"field":"i","type":"quantitative"}}},
{"data":{"name":"ct"},"transform":[{"filter":"datum.p==2 && datum.lev==0.5"}],"mark":{"type":"line","filled":true,"color":"#f29b4f","interpolate":"catmull-rom","clip":true},"encoding":{"order":{"field":"i","type":"quantitative"}}},
{"data":{"name":"ct"},"transform":[{"filter":"datum.p==2 && datum.lev==0.6"}],"mark":{"type":"line","filled":true,"color":"#f8714f","interpolate":"catmull-rom","clip":true},"encoding":{"order":{"field":"i","type":"quantitative"}}},
{"data":{"name":"ct"},"transform":[{"filter":"datum.p==2 && datum.lev==0.7"}],"mark":{"type":"line","filled":true,"color":"#ee5151","interpolate":"catmull-rom","clip":true},"encoding":{"order":{"field":"i","type":"quantitative"}}},
{"data":{"name":"ct"},"transform":[{"filter":"datum.p==2"}],"mark":{"type":"line","color":"black","strokeWidth":1,"interpolate":"catmull-rom","clip":true,"invalid":"break-paths-filter-domains"},
"encoding":{"y":{"field":"yl","type":"quantitative","scale":{"domain":[0,0.8],"nice":false,"zero":false},"axis":null},"detail":{"field":"lev","type":"nominal"},"order":{"field":"i","type":"quantitative"}}},
{"data":{"name":"rg"},"transform":[{"filter":"datum.p==2"}],"mark":{"type":"line","color":"white","strokeWidth":2,"interpolate":"catmull-rom"},"encoding":{"order":{"field":"i","type":"quantitative"}}},
{"data":{"name":"mk"},"transform":[{"filter":"datum.p==2"}],"mark":{"type":"point","shape":"M-1,-1L1,1M1,-1L-1,1","size":100,"filled":false,"color":"black","strokeWidth":3,"opacity":1}},
{"data":{"name":"lb"},"transform":[{"filter":"datum.p==2 && datum.k=='c6'"}],"mark":{"type":"text","angle":32},"encoding":{"text":{"field":"t"}}},
{"data":{"name":"lb"},"transform":[{"filter":"datum.p==2 && datum.k=='c5'"}],"mark":{"type":"text","angle":42},"encoding":{"text":{"field":"t"}}},
{"data":{"name":"lb"},"transform":[{"filter":"datum.p==2 && datum.k=='c4'"}],"mark":{"type":"text","angle":47},"encoding":{"text":{"field":"t"}}},
{"data":{"name":"lb"},"transform":[{"filter":"datum.p==2 && datum.k=='c3'"}],"mark":{"type":"text","angle":55},"encoding":{"text":{"field":"t"}}},
{"data":{"name":"lb"},"transform":[{"filter":"datum.p==2 && datum.k=='c2'"}],"mark":{"type":"text","angle":62},"encoding":{"text":{"field":"t"}}},
{"data":{"name":"lb"},"transform":[{"filter":"datum.p==2 && datum.k=='c1'"}],"mark":{"type":"text","angle":70},"encoding":{"text":{"field":"t"}}},
{"data":{"name":"lb"},"transform":[{"filter":"datum.p==2 && datum.k=='C'"}],"mark":{"type":"text","fontStyle":"italic","fontSize":22,"angle":28},"encoding":{"text":{"field":"t"}}},
{"data":{"name":"lb"},"transform":[{"filter":"datum.p==2 && datum.k=='PG'"}],"mark":{"type":"text","fontStyle":"italic","fontSize":15,"angle":28},"encoding":{"text":{"field":"t"}}},
{"data":{"name":"lb"},"transform":[{"filter":"datum.p==2 && datum.k=='eq'"}],"mark":{"type":"text","fontSize":22,"angle":28},"encoding":{"text":{"field":"t"}}},
{"data":{"name":"lb"},"transform":[{"filter":"datum.p==2 && datum.k=='n'"}],"mark":{"type":"text","fontStyle":"italic","fontSize":24,"align":"left","baseline":"alphabetic","dy":-8.4},"encoding":{"text":{"field":"t"}}},
{"data":{"name":"lb"},"transform":[{"filter":"datum.p==2 && datum.k=='nv'"}],"mark":{"type":"text","fontSize":24,"align":"left","baseline":"alphabetic","dy":-8.4},"encoding":{"text":{"field":"t"}}},
{"data":{"name":"lb"},"transform":[{"filter":"datum.p==2 && datum.k=='B'"}],"mark":{"type":"text","fontStyle":"italic","fontSize":21,"align":"left","baseline":"alphabetic"},"encoding":{"text":{"field":"t"}}},
{"data":{"name":"lb"},"transform":[{"filter":"datum.p==2 && datum.k=='L'"}],"mark":{"type":"text","fontStyle":"italic","fontSize":14,"align":"left","baseline":"alphabetic"},"encoding":{"text":{"field":"t"}}}
]
}
],
"config":{
"view":{"stroke":null},
"axis":{"labelFont":"Liberation Serif","labelFontSize":20,"labelColor":"black","labelFlush":false,"titleFont":"Liberation Serif","titleFontSize":21.5,"titleFontWeight":"normal","titleColor":"black","tickColor":"#555","grid":false,"zindex":1},
"text":{"font":"Liberation Serif","fontSize":20,"color":"black","align":"center","baseline":"middle"}
}
}
